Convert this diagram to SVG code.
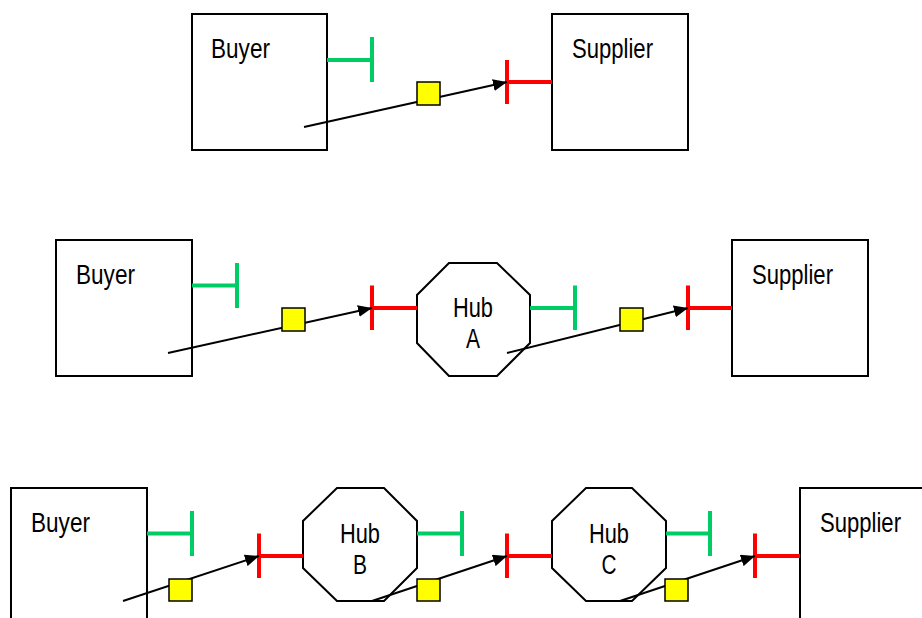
<svg xmlns="http://www.w3.org/2000/svg" width="922" height="618" viewBox="0 0 922 618">
<defs>
<style>
.box{fill:#fff;stroke:#000;stroke-width:2}
.hub{fill:#fff;stroke:#000;stroke-width:2}
.lbl{font-family:"Liberation Sans",Arial,sans-serif;font-size:27px;fill:#000}
.g{stroke:#00CC66;stroke-width:4;fill:none}
.r{stroke:#FF0000;stroke-width:4;fill:none}
.arr{stroke:#000;stroke-width:2;fill:none;marker-end:url(#ah)}
.tok{fill:#FFFF00;stroke:#000;stroke-width:1.5}
</style>
<marker id="ah" markerUnits="userSpaceOnUse" markerWidth="16" markerHeight="12" refX="14" refY="6" orient="auto">
<path d="M0,0 L14,6 L0,12 Z" fill="#000"/>
</marker>
</defs>
<rect width="922" height="618" fill="#fff"/>

<!-- Row 1 -->
<g id="buyer1">
<rect class="box" x="192" y="14" width="135" height="136"/>
<text class="lbl" x="211" y="58" textLength="59" lengthAdjust="spacingAndGlyphs">Buyer</text>
<path class="g" d="M327,60 H372 M372,37 V82"/>
</g>
<g id="supplier1">
<rect class="box" x="552" y="14" width="136" height="136"/>
<text class="lbl" x="572" y="58" textLength="81" lengthAdjust="spacingAndGlyphs">Supplier</text>
<path class="r" d="M552,82 H507 M507,60 V104"/>
</g>

<!-- Row 2 -->
<g id="buyer2">
<rect class="box" x="56" y="240" width="136" height="136"/>
<text class="lbl" x="76" y="284" textLength="59" lengthAdjust="spacingAndGlyphs">Buyer</text>
<path class="g" d="M192,285.5 H237 M237,263 V308"/>
</g>
<g id="hubA">
<polygon class="hub" points="449,263 497,263 530,295 530,343 497,376 449,376 417,343 417,295"/>
<text class="lbl" x="473" y="317" text-anchor="middle" textLength="40" lengthAdjust="spacingAndGlyphs">Hub</text>
<text class="lbl" x="473" y="348" text-anchor="middle" textLength="14" lengthAdjust="spacingAndGlyphs">A</text>
<path class="r" d="M417,308 H372 M372,285.5 V330"/>
<path class="g" d="M530,308 H575 M575,285.5 V330"/>
</g>
<g id="supplier2">
<rect class="box" x="732" y="240" width="136" height="136"/>
<text class="lbl" x="752" y="284" textLength="81" lengthAdjust="spacingAndGlyphs">Supplier</text>
<path class="r" d="M732,308 H688 M688,285.5 V330"/>
</g>

<!-- Row 3 -->
<g id="buyer3">
<rect class="box" x="11" y="488" width="136" height="150"/>
<text class="lbl" x="31" y="532" textLength="59" lengthAdjust="spacingAndGlyphs">Buyer</text>
<path class="g" d="M147,533.5 H192 M192,511 V556"/>
</g>
<g id="hubB">
<polygon class="hub" points="337,488 384,488 417,521 417,568 384,601 337,601 303,568 303,521"/>
<text class="lbl" x="360" y="543" text-anchor="middle" textLength="40" lengthAdjust="spacingAndGlyphs">Hub</text>
<text class="lbl" x="360" y="574" text-anchor="middle" textLength="14" lengthAdjust="spacingAndGlyphs">B</text>
<path class="r" d="M303,556 H259 M259,533.5 V578"/>
<path class="g" d="M417,533.5 H462 M462,511 V556"/>
</g>
<g id="hubC">
<polygon class="hub" points="586,488 632,488 666,521 666,568 632,601 586,601 552,568 552,521"/>
<text class="lbl" x="609" y="543" text-anchor="middle" textLength="40" lengthAdjust="spacingAndGlyphs">Hub</text>
<text class="lbl" x="609" y="574" text-anchor="middle" textLength="15" lengthAdjust="spacingAndGlyphs">C</text>
<path class="r" d="M552,556 H507 M507,533.5 V578"/>
<path class="g" d="M666,533.5 H710 M710,511 V556"/>
</g>
<g id="supplier3">
<rect class="box" x="800" y="488" width="150" height="150"/>
<text class="lbl" x="820" y="532" textLength="81" lengthAdjust="spacingAndGlyphs">Supplier</text>
<path class="r" d="M800,556 H755 M755,533.5 V578"/>
</g>

<g id="connectors">
<line class="arr" x1="304" y1="127" x2="507" y2="82"/>
<rect class="tok" x="417" y="82" width="23" height="23"/>

<line class="arr" x1="168" y1="353" x2="372" y2="308"/>
<rect class="tok" x="282" y="308" width="23" height="23"/>

<line class="arr" x1="507" y1="353" x2="688" y2="308"/>
<rect class="tok" x="620" y="308" width="23" height="23"/>

<line class="arr" x1="123" y1="601" x2="259" y2="556"/>
<rect class="tok" x="169" y="579" width="23" height="22"/>

<line class="arr" x1="372" y1="601" x2="507" y2="556"/>
<rect class="tok" x="417" y="579" width="23" height="22"/>

<line class="arr" x1="620" y1="601" x2="755" y2="556"/>
<rect class="tok" x="665" y="579" width="23" height="22"/>
</g>
</svg>
